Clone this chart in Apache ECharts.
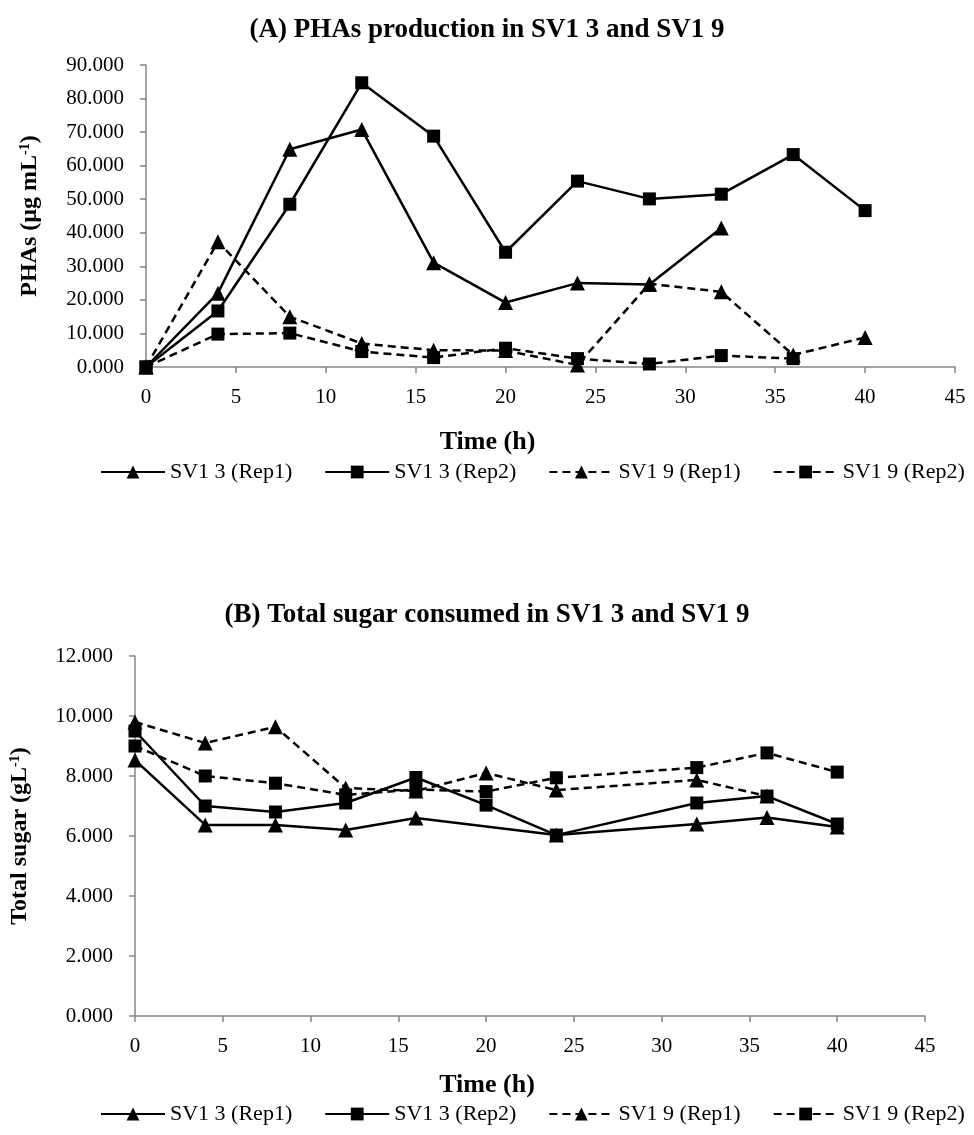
<!DOCTYPE html>
<html>
<head>
<meta charset="utf-8">
<script src="https://cdn.jsdelivr.net/npm/echarts@6/dist/echarts.min.js"></script>
<style>
  html, body { margin: 0; padding: 0; background: #fff; }
  #main { width: 974px; height: 1135px; }
</style>
</head>
<body>
<div id="main"></div>
<script>
// sampling times (h)
var hours = [0, 4, 8, 12, 16, 20, 24, 28, 32, 36, 40]
var xTicks = [0, 5, 10, 15, 20, 25, 30, 35, 40, 45]
var phaTicks = [0, 10, 20, 30, 40, 50, 60, 70, 80, 90]
var sugarTicks = [0, 2, 4, 6, 8, 10, 12]

var seriesNames = ['SV1 3 (Rep1)', 'SV1 3 (Rep2)', 'SV1 9 (Rep1)', 'SV1 9 (Rep2)']

// (A) PHAs, µg mL-1   (null = not measured)
var phaSV13Rep1 = [0, 22.0, 64.9, 70.8, 31.1, 19.2, 25.0, 24.6, 41.4, null, null]
var phaSV13Rep2 = [0, 16.7, 48.5, 84.7, 68.8, 34.2, 55.4, 50.1, 51.5, 63.3, 46.6]
var phaSV19Rep1 = [0, 37.3, 15.0, 7.0, 5.0, 4.9, 0.6, 24.8, 22.4, 3.6, 8.8]
var phaSV19Rep2 = [0, 9.8, 10.1, 4.6, 2.8, 5.6, 2.5, 0.9, 3.4, 2.5, null]

// (B) total sugar, g L-1
var sugarSV13Rep1 = [8.53, 6.37, 6.37, 6.2, 6.6, null, 6.03, null, 6.4, 6.62, 6.3]
var sugarSV13Rep2 = [9.5, 7.0, 6.8, 7.1, 7.95, 7.03, 6.03, null, 7.1, 7.33, 6.4]
var sugarSV19Rep1 = [9.8, 9.1, 9.64, 7.6, 7.5, 8.1, 7.53, null, 7.87, 7.33, null]
var sugarSV19Rep2 = [9.0, 8.0, 7.76, 7.37, 7.55, 7.48, 7.94, null, 8.28, 8.77, 8.13]

var serif = 'Liberation Serif'
var axisGrey = '#868686'

// pair values with hours, skipping missing samples
function pairs (vals) {
  var out = []
  for (var i = 0; i < hours.length; i++) {
    if (vals[i] !== null) out.push([hours[i], vals[i]])
  }
  return out
}

function makeSeries (name, vals, idx, symbol, dashed) {
  return {
    name: name,
    type: 'line',
    xAxisIndex: idx,
    yAxisIndex: idx,
    data: pairs(vals),
    symbol: symbol,
    symbolSize: symbol === 'triangle' ? 15 : 13,
    color: '#000',
    itemStyle: { color: '#000' },
    lineStyle: { color: '#000', width: 2.5, type: dashed ? [8, 5] : 'solid' },
    animation: false
  }
}

// shift is how far left of the grid centre the axis title sits
function xAxis (idx, gap, shift) {
  return {
    type: 'value',
    gridIndex: idx,
    min: xTicks[0],
    max: xTicks[xTicks.length - 1],
    interval: xTicks[1] - xTicks[0],
    name: 'Time (h)',
    nameLocation: 'middle',
    nameGap: gap,
    nameTextStyle: {
      fontFamily: serif,
      fontWeight: 'bold',
      fontSize: 26,
      color: '#000',
      padding: [0, shift * 2, 0, 0]
    },
    axisLine: { lineStyle: { color: axisGrey, width: 1.5 } },
    axisTick: { show: true, length: 6, lineStyle: { color: axisGrey, width: 1.5 } },
    axisLabel: { fontFamily: serif, fontSize: 21, color: '#000', margin: 20 },
    splitLine: { show: false }
  }
}

function yAxis (idx, ticks, name, gap) {
  return {
    type: 'value',
    gridIndex: idx,
    min: ticks[0],
    max: ticks[ticks.length - 1],
    interval: ticks[1] - ticks[0],
    name: name,
    nameLocation: 'middle',
    nameGap: gap,
    nameTextStyle: {
      rich: {
        b: { fontFamily: serif, fontWeight: 'bold', fontSize: 24, color: '#000' },
        sup: { fontFamily: serif, fontWeight: 'bold', fontSize: 14, color: '#000', padding: [0, 0, 10, 0] }
      }
    },
    axisLine: { show: true, lineStyle: { color: axisGrey, width: 1.5 } },
    axisTick: { show: true, length: 6, lineStyle: { color: axisGrey, width: 1.5 } },
    axisLabel: {
      fontFamily: serif,
      fontSize: 21,
      color: '#000',
      margin: 22,
      formatter: function (v) { return v.toFixed(3) }
    },
    splitLine: { show: false }
  }
}

function legend (top) {
  return {
    top: top,
    left: 95,
    itemWidth: 64,
    itemHeight: 16,
    itemGap: 32,
    data: seriesNames,
    textStyle: { fontFamily: serif, fontSize: 22, color: '#000' },
    selectedMode: false
  }
}

var chart = echarts.init(document.getElementById('main'))
chart.setOption({
  backgroundColor: '#fff',
  animation: false,
  title: [
    {
      text: '(A) PHAs production in SV1 3 and SV1 9',
      left: 'center',
      top: 12,
      textStyle: { fontFamily: serif, fontWeight: 'bold', fontSize: 27, color: '#000' }
    },
    {
      text: '(B) Total sugar consumed in SV1 3 and SV1 9',
      left: 'center',
      top: 597,
      textStyle: { fontFamily: serif, fontWeight: 'bold', fontSize: 27, color: '#000' }
    }
  ],
  legend: [legend(456), legend(1098)],
  grid: [
    { left: 146, right: 19, top: 65, height: 302, outerBoundsMode: 'none' },
    { left: 135, right: 49, top: 656, height: 360, outerBoundsMode: 'none' }
  ],
  xAxis: [xAxis(0, 62, 63), xAxis(1, 56, 43)],
  yAxis: [
    yAxis(0, phaTicks, '{b|PHAs (µg mL}{sup|-1}{b|)}', 104),
    yAxis(1, sugarTicks, '{b|Total sugar (gL}{sup|-1}{b|)}', 103)
  ],
  series: [
    makeSeries(seriesNames[0], phaSV13Rep1, 0, 'triangle', false),
    makeSeries(seriesNames[1], phaSV13Rep2, 0, 'rect', false),
    makeSeries(seriesNames[2], phaSV19Rep1, 0, 'triangle', true),
    makeSeries(seriesNames[3], phaSV19Rep2, 0, 'rect', true),
    makeSeries(seriesNames[0], sugarSV13Rep1, 1, 'triangle', false),
    makeSeries(seriesNames[1], sugarSV13Rep2, 1, 'rect', false),
    makeSeries(seriesNames[2], sugarSV19Rep1, 1, 'triangle', true),
    makeSeries(seriesNames[3], sugarSV19Rep2, 1, 'rect', true)
  ]
})
</script>
</body>
</html>
